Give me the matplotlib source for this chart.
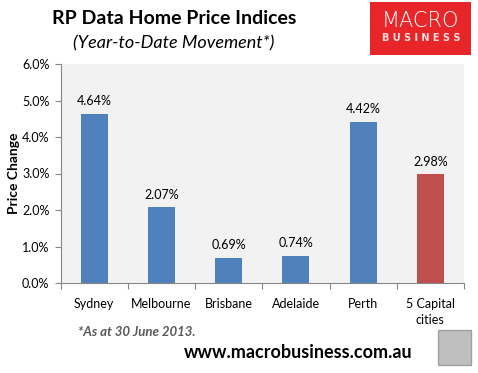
import matplotlib.pyplot as plt
from matplotlib.patches import Rectangle
from matplotlib.ticker import FuncFormatter

# Datos
cities = ["Sydney", "Melbourne", "Brisbane", "Adelaide", "Perth", "5 Capital\ncities"]
change = [4.64, 2.07, 0.69, 0.74, 4.42, 2.98]
colors = ["#4F81BD"] * 5 + ["#C0504D"]

plt.rcParams['font.family'] = ['Lato', 'DejaVu Sans']

fig = plt.figure(figsize=(4.78, 3.73), dpi=100)
W, H = 478, 373
ax = fig.add_axes([60.5 / W, 1 - 283 / H, (464 - 60.5) / W, (283 - 64) / H])
ax.set_facecolor("#F2F2F2")

x = range(len(cities))
ax.bar(x, change, width=0.4, color=colors, zorder=2)
for i, v in enumerate(change):
    ax.text(i, v + 0.18, f"{v:.2f}%", ha='center', va='bottom', fontsize=9, color='black')

ax.set_xlim(-0.5, len(cities) - 0.5)
ax.set_ylim(0, 6)
ax.set_yticks([0, 1, 2, 3, 4, 5, 6])
ax.yaxis.set_major_formatter(FuncFormatter(lambda v, p: f"{v:.1f}%"))
ax.set_xticks([i - 0.5 for i in range(len(cities) + 1)], minor=False)
ax.set_xticklabels([])
ax.set_xticks(list(x), minor=True)
ax.set_xticklabels(cities, minor=True, fontsize=9, linespacing=1.4)
ax.tick_params(axis='x', which='minor', length=0, pad=11)
ax.tick_params(axis='x', which='major', length=4, color='#868686')
ax.tick_params(axis='y', length=4, color='#868686', labelsize=9, pad=4)
for s in ['top', 'right']:
    ax.spines[s].set_visible(False)
for s in ['left', 'bottom']:
    ax.spines[s].set_color('#868686')
ax.set_ylabel("Price Change", fontsize=10, fontweight='bold', labelpad=1.5)

# Títulos
fig.text(174 / W, 1 - 18 / H, "RP Data Home Price Indices", ha='center', va='center',
         fontsize=14, fontweight='bold')
fig.text(174 / W, 1 - 43 / H, "(Year-to-Date Movement*)", ha='center', va='center',
         fontsize=13, style='italic')

# Logo
fig.patches.append(Rectangle((370 / W, 1 - 55 / H), 101 / W, 53 / H, transform=fig.transFigure,
                             facecolor='#E8262A', edgecolor='none'))
fig.text(420 / W, 1 - 21 / H, "MACRO", ha='center', va='center', fontsize=15,
         color='white', family='DejaVu Sans', fontweight='light')
fig.text(421 / W, 1 - 38 / H, "B U S I N E S S", ha='center', va='center', fontsize=7,
         color='#FFE0E0', fontweight='bold', family='DejaVu Sans')

# Notas
fig.text(78 / W, 1 - 332 / H, "*As at 30 June 2013.", ha='left', va='center', fontsize=9.5,
         style='italic', fontweight='bold', color='#595959')
fig.text(298 / W, 1 - 352 / H, "www.macrobusiness.com.au", ha='center', va='center',
         fontsize=13, fontweight='bold', color='black')
fig.patches.append(Rectangle((438 / W, 1 - 365 / H), 33 / W, 35 / H, transform=fig.transFigure,
                             facecolor='#BFBFBF', edgecolor='#A0A0A0', linewidth=1))

fig.savefig("out.png", dpi=100)
